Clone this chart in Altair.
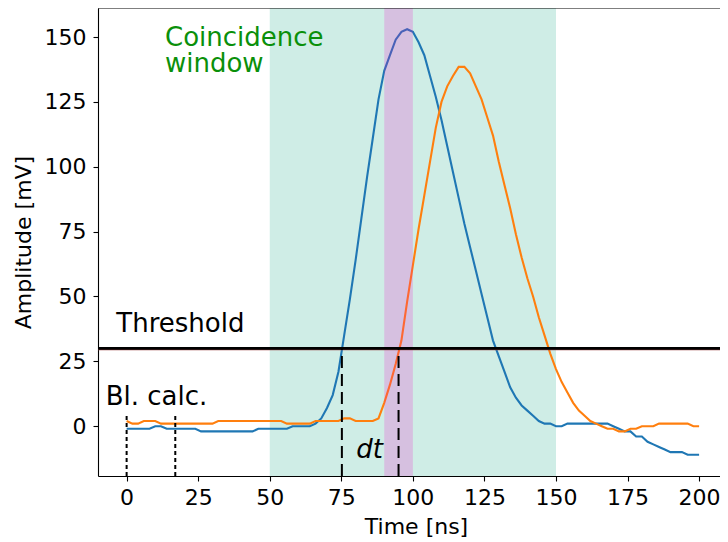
import altair as alt
import pandas as pd

# ---- data ----
time_ns = list(range(0, 201, 2))

blue_mv = [
    -1, -1, -1, -1, -1, 0, 0, -1, -1, -1,
    -1, -1, -1, -2, -2, -2, -2, -2, -2, -2,
    -2, -2, -2, -1, -1, -1, -1, -1, -1, 0,
    0, 0, 0, 1, 3, 7, 12, 21, 35, 49,
    64, 80, 96, 111, 126, 137, 143, 149, 152, 153,
    152, 148, 143, 135, 127, 118, 108, 98, 88, 78,
    69, 60, 51, 42, 33, 27, 21, 15, 11, 8,
    6, 4, 2, 1, 1, 0, 0, 1, 1, 1,
    1, 1, 1, 1, 1, 0, -1, -2, -2, -4,
    -4, -6, -7, -8, -9, -10, -10, -10, -11, -11,
    -11,
]

orange_mv = [
    2, 1, 1, 2, 2, 2, 1, 1, 1, 1,
    1, 1, 1, 1, 1, 1, 2, 2, 2, 2,
    2, 2, 2, 2, 2, 2, 2, 2, 1, 1,
    1, 1, 1, 2, 2, 2, 2, 2, 3, 3,
    2, 2, 2, 2, 3, 9, 16, 24, 33, 48,
    62, 76, 89, 102, 115, 125, 131, 135, 138.5, 138.5,
    136, 131, 126, 119, 112, 102, 93, 84, 74, 65,
    57, 50, 42, 35, 28, 22, 17, 13, 9, 6,
    4, 2, 1, 0, -1, -1, -2, -2, -1, -1,
    0, 0, 0, 1, 1, 1, 1, 1, 1, 0,
    0,
]

coincidence_window = [50, 150]
overlap_window = [90, 100]
threshold_mv = 30
crossing_times = [75.2, 95.0]
baseline_window = [0, 17]
x_ticks = [0, 25, 50, 75, 100, 125, 150, 175, 200]
y_ticks = [0, 25, 50, 75, 100, 125, 150]

X_DOMAIN = [-10, 207.3]
Y_DOMAIN = [-19.2, 161.2]
W, H = 622, 468
FONT = "DejaVu Sans"

waves = pd.DataFrame({
    "t": time_ns * 2,
    "v": blue_mv + orange_mv,
    "ch": ["A"] * len(time_ns) + ["B"] * len(time_ns),
})

xs = alt.Scale(domain=X_DOMAIN, nice=False, zero=False)
ys = alt.Scale(domain=Y_DOMAIN, nice=False, zero=False)

x_axis = alt.Axis(
    values=x_ticks, title="Time [ns]", grid=False,
    labelFontSize=22, labelColor="black", labelFont=FONT, labelPadding=6,
    tickSize=5, tickWidth=1.1, tickColor="black",
    domainColor="black", domainWidth=1.1,
    titleFontSize=22, titleFontWeight="normal", titleColor="black", titleFont=FONT,
    titleX=318, titleY=57, titleBaseline="alphabetic",
)
y_axis = alt.Axis(
    values=y_ticks, title="Amplitude [mV]", grid=False,
    labelFontSize=22, labelColor="black", labelFont=FONT, labelPadding=7,
    tickSize=5, tickWidth=1.1, tickColor="black",
    domainColor="black", domainWidth=1.1,
    titleFontSize=22, titleFontWeight="normal", titleColor="black", titleFont=FONT,
    titleX=-68, titleBaseline="alphabetic",
)

cw = pd.DataFrame({"x0": [coincidence_window[0]], "x1": [coincidence_window[1]]})
teal = alt.Chart(cw).mark_rect(color="#cfede6").encode(
    x=alt.X("x0:Q", scale=xs, axis=x_axis), x2="x1:Q",
    y=alt.value(0), y2=alt.value(H),
)

lines = alt.Chart(waves).mark_line(strokeWidth=2.1).encode(
    x=alt.X("t:Q", scale=xs, axis=x_axis),
    y=alt.Y("v:Q", scale=ys, axis=y_axis),
    color=alt.Color("ch:N", scale=alt.Scale(domain=["A", "B"], range=["#1f77b4", "#ff7f0e"]), legend=None),
)

ow = pd.DataFrame({"x0": [overlap_window[0]], "x1": [overlap_window[1]]})
purple = alt.Chart(ow).mark_rect(color="#f511c8", opacity=0.2).encode(
    x=alt.X("x0:Q", scale=xs), x2="x1:Q",
    y=alt.value(0), y2=alt.value(H),
)

thr = pd.DataFrame({"y": [threshold_mv]})
thr_red = alt.Chart(thr).mark_rule(color="#a04848", strokeWidth=1.2).encode(
    y=alt.Y("y:Q", scale=ys), yOffset=alt.value(1.3),
)
thr_line = alt.Chart(thr).mark_rule(color="black", strokeWidth=2.7).encode(
    y=alt.Y("y:Q", scale=ys),
)

dash_df = pd.DataFrame({"x": crossing_times, "y0": [Y_DOMAIN[0]] * 2, "y1": [threshold_mv] * 2})
dashes = alt.Chart(dash_df).mark_rule(color="black", strokeWidth=2, strokeDash=[12, 6]).encode(
    x=alt.X("x:Q", scale=xs), y=alt.Y("y0:Q", scale=ys), y2="y1:Q",
)

dot_df = pd.DataFrame({"x": baseline_window, "y0": [Y_DOMAIN[0]] * 2, "y1": [4, 4]})
dots = alt.Chart(dot_df).mark_rule(color="black", strokeWidth=2, strokeDash=[4, 3]).encode(
    x=alt.X("x:Q", scale=xs), y=alt.Y("y0:Q", scale=ys), y2="y1:Q",
)

labels = pd.DataFrame({
    "x": [-3.6, -7.3],
    "y": [36.5, 8.1],
    "txt": ["Threshold", "Bl. calc."],
})
text_black = alt.Chart(labels).mark_text(
    align="left", baseline="alphabetic", fontSize=26, font=FONT, color="black"
).encode(x=alt.X("x:Q", scale=xs), y=alt.Y("y:Q", scale=ys), text="txt:N")

dt_df = pd.DataFrame({"x": [80.2], "y": [-12.3], "txt": ["dt"]})
text_dt = alt.Chart(dt_df).mark_text(
    align="left", baseline="alphabetic", fontSize=26, font=FONT, fontStyle="italic", color="black"
).encode(x=alt.X("x:Q", scale=xs), y=alt.Y("y:Q", scale=ys), text="txt:N")

cw_df = pd.DataFrame({"x": [13.4], "y": [146.5], "txt": ["Coincidence\nwindow"]})
text_cw = alt.Chart(cw_df).mark_text(
    align="left", baseline="alphabetic", fontSize=26, font=FONT, color="#0a900a",
    lineBreak="\n", lineHeight=25.7,
).encode(x=alt.X("x:Q", scale=xs), y=alt.Y("y:Q", scale=ys), text="txt:N")

top_spine = alt.Chart(thr).mark_rule(color="black", strokeWidth=1.1).encode(
    x=alt.value(0), x2=alt.value(W), y=alt.value(0),
)

chart = alt.layer(
    teal, lines, purple, thr_red, thr_line, dashes, dots,
    text_black, text_dt, text_cw, top_spine,
).properties(
    width=W, height=H,
    autosize=alt.AutoSizeParams(type="none"),
    padding={"left": 90, "top": 0, "right": 0, "bottom": 66},
    background="white",
).configure_view(strokeWidth=0).resolve_scale(x="shared", y="shared")

chart.save("out.html", embed_options={"renderer": "svg", "actions": False})
